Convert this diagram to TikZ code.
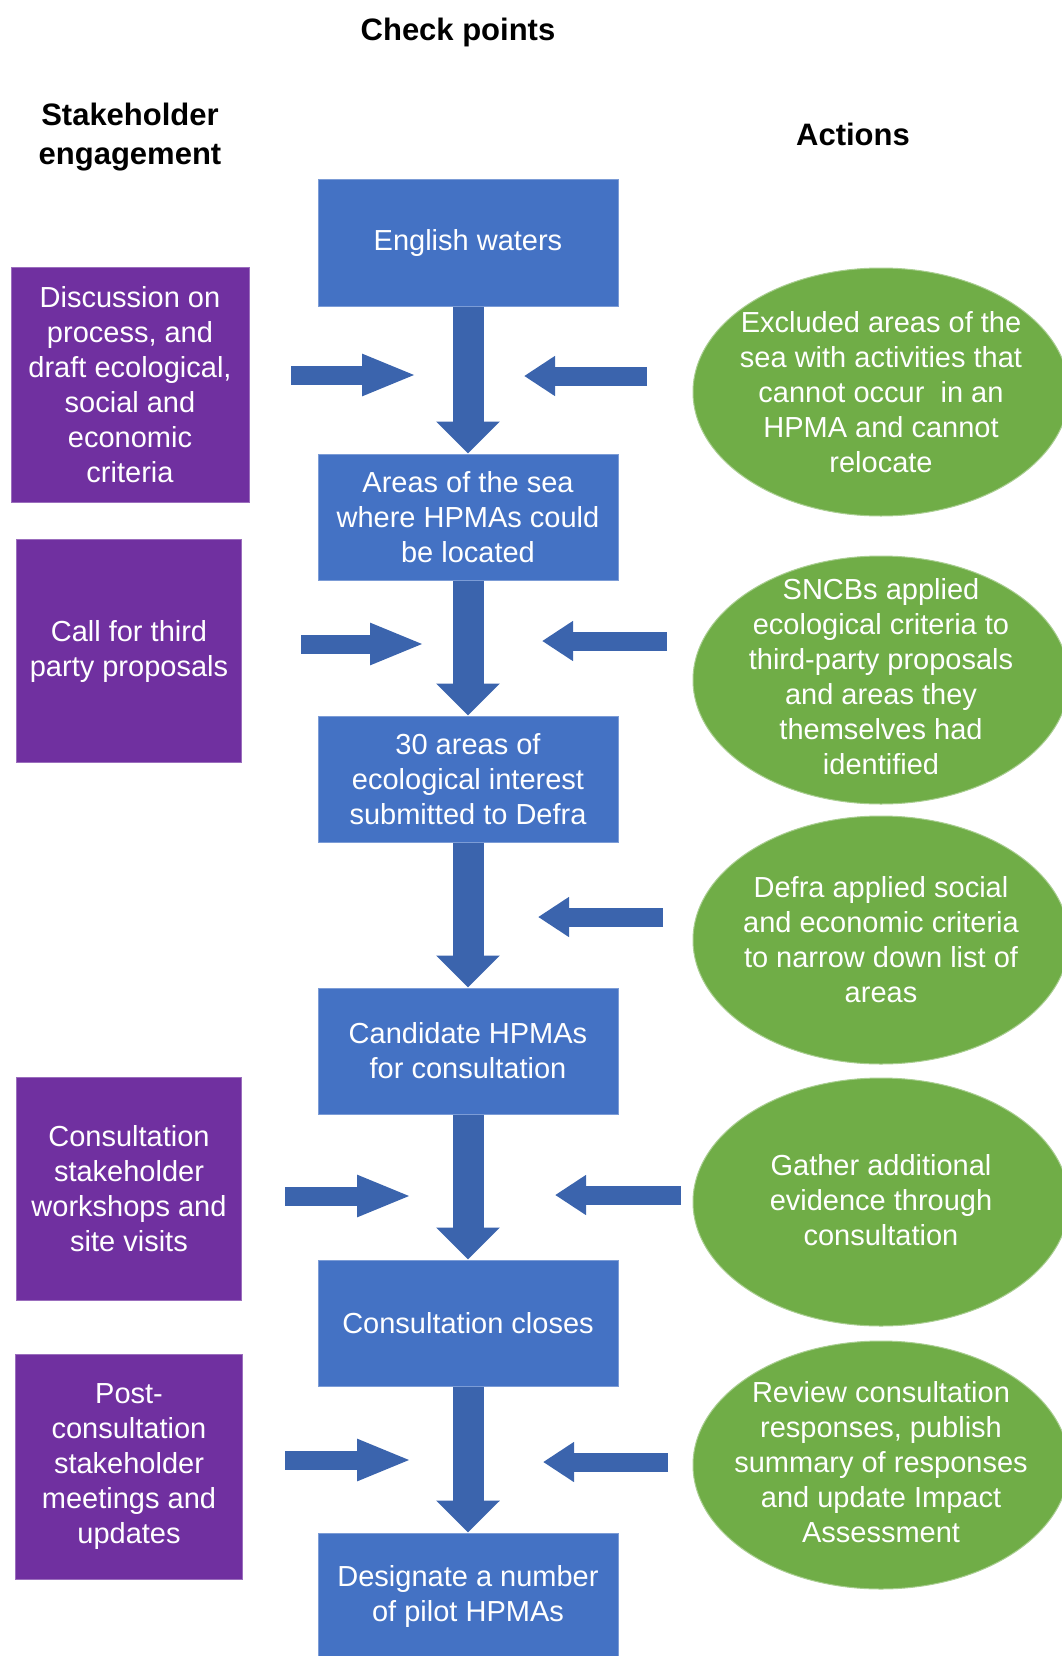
\documentclass[tikz,border=0pt]{standalone}
\usepackage{fontspec}
\setmainfont{Liberation Sans}
\usetikzlibrary{shapes.geometric,arrows.meta}
\definecolor{boxblue}{HTML}{4472C4}
\definecolor{arrblue}{HTML}{3B64AD}
\definecolor{purp}{HTML}{7030A0}
\definecolor{grn}{HTML}{70AD47}
\tikzset{
  body/.style={font=\fontsize{29}{35}\selectfont, text=white, align=center},
  head/.style={font=\fontsize{31}{39}\selectfont\bfseries, text=black, align=center},
  bluebox/.style={rectangle, fill=boxblue, draw=boxblue!70!white, line width=1pt,
    minimum width=300pt, minimum height=126pt, inner sep=0pt, body},
  purpbox/.style={rectangle, fill=purp, draw=purp!70!white, line width=1pt, inner sep=0pt, body},
  greenell/.style={ellipse, fill=grn, draw=grn!60!white, line width=1pt,
    minimum width=376pt, minimum height=248pt, inner sep=0pt},
  downarrow/.style={draw=arrblue, line width=31pt, -{Triangle[width=62pt,length=32pt]}},
  rightarrow/.style={draw=arrblue, line width=19pt, -{Triangle[width=38pt,length=55pt]}},
  leftarrow/.style={draw=arrblue, line width=19pt, -{Triangle[width=38pt,length=31pt]}},
}
\begin{document}
\begin{tikzpicture}[x=1pt,y=-1pt]
\useasboundingbox (0,0) rectangle (1062,1656);

% headers
\node[head] (hcheck) at (458,32) {Check points};
\node[head] (hstake) at (130,137) {Stakeholder\\engagement};
\node[head] (hact) at (853,134) {Actions};

% check point boxes
\node[bluebox] (b1) at (468,243) {English waters};
\node[bluebox] (b2) at (468,517) {Areas of the sea\\where HPMAs could\\be located};
\node[bluebox] (b3) at (468,779) {30 areas of\\ecological interest\\submitted to Defra};
\node[bluebox] (b4) at (468,1051) {Candidate HPMAs\\for consultation};
\node[bluebox] (b5) at (468,1323) {Consultation closes};
\node[bluebox] (b6) at (468,1596) {Designate a number\\of pilot HPMAs};

% stakeholder boxes
\node[purpbox, minimum width=238pt, minimum height=235pt] (p1) at (130,385)
  {Discussion on\\process, and\\draft ecological,\\social and\\economic\\criteria};
\node[purpbox, minimum width=225pt, minimum height=223pt] (p2) at (129,651)
  {Call for third\\party proposals};
\node[purpbox, minimum width=225pt, minimum height=223pt] (p3) at (129,1189)
  {Consultation\\stakeholder\\workshops and\\site visits};
\node[purpbox, minimum width=227pt, minimum height=225pt] (p4) at (129,1467)
  {Post-\\consultation\\stakeholder\\meetings and\\updates};

% action ellipses
\node[greenell] (e1) at (881,392) {};
\node[body] (e1t) at (e1) {Excluded areas of the\\sea with activities that\\cannot occur\ \ in an\\HPMA and cannot\\relocate};
\node[greenell] (e2) at (881,680) {};
\node[body] (e2t) at (881,677) {SNCBs applied\\ecological criteria to\\third-party proposals\\and areas they\\themselves had\\identified};
\node[greenell] (e3) at (881,940) {};
\node[body] (e3t) at (e3) {Defra applied social\\and economic criteria\\to narrow down list of\\areas};
\node[greenell] (e4) at (881,1202) {};
\node[body] (e4t) at (881,1200) {Gather additional\\evidence through\\consultation};
\node[greenell] (e5) at (881,1465) {};
\node[body] (e5t) at (881,1462) {Review consultation\\responses, publish\\summary of responses\\and update Impact\\Assessment};

% down arrows
\draw[downarrow] (b1.south) -- (b2.north);
\draw[downarrow] (b2.south) -- (b3.north);
\draw[downarrow] (b3.south) -- (b4.north);
\draw[downarrow] (b4.south) -- (b5.north);
\draw[downarrow] (b5.south) -- (b6.north);

% side arrows
\coordinate (l1s) at (291,375); \coordinate (l1e) at (417,375);
\coordinate (r1s) at (647,376); \coordinate (r1e) at (524,376);
\coordinate (l2s) at (301,644); \coordinate (l2e) at (425,644);
\coordinate (r2s) at (667,641); \coordinate (r2e) at (542,641);
\coordinate (r3s) at (663,917); \coordinate (r3e) at (538,917);
\coordinate (l4s) at (285,1196); \coordinate (l4e) at (412,1196);
\coordinate (r4s) at (681,1195); \coordinate (r4e) at (555,1195);
\coordinate (l5s) at (285,1460); \coordinate (l5e) at (412,1460);
\coordinate (r5s) at (668,1462); \coordinate (r5e) at (543,1462);
\draw[rightarrow] (l1s) -- (l1e);
\draw[leftarrow] (r1s) -- (r1e);
\draw[rightarrow] (l2s) -- (l2e);
\draw[leftarrow] (r2s) -- (r2e);
\draw[leftarrow] (r3s) -- (r3e);
\draw[rightarrow] (l4s) -- (l4e);
\draw[leftarrow] (r4s) -- (r4e);
\draw[rightarrow] (l5s) -- (l5e);
\draw[leftarrow] (r5s) -- (r5e);
\end{tikzpicture}
\end{document}
